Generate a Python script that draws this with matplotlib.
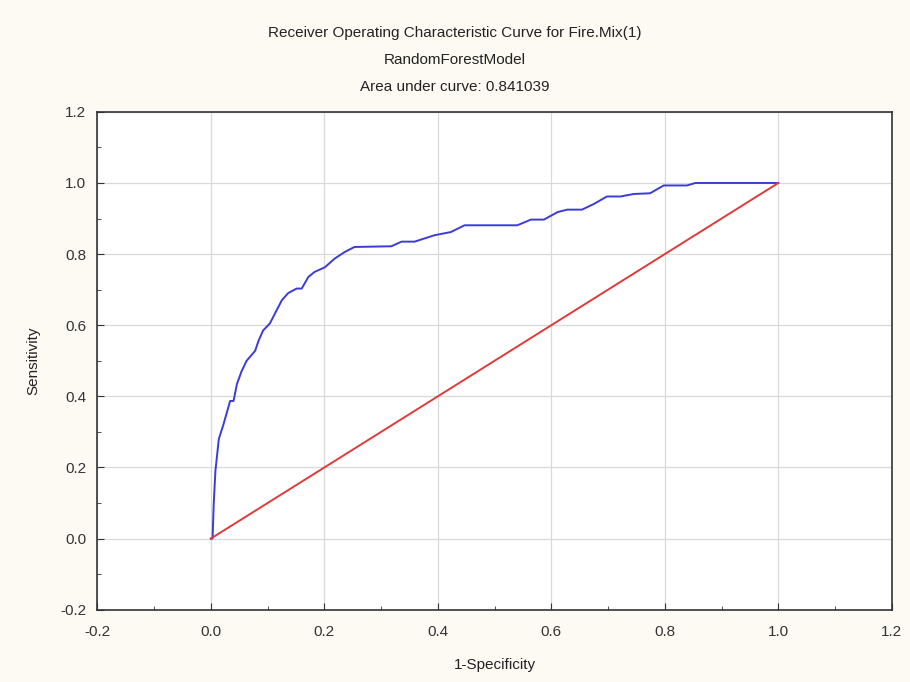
import matplotlib
matplotlib.use("Agg")
import matplotlib.pyplot as plt
from matplotlib.ticker import MultipleLocator

plt.rcParams['font.family'] = ['Liberation Sans', 'DejaVu Sans']

fpr = [0.0, 0.003, 0.005, 0.008, 0.014, 0.022, 0.034, 0.040, 0.046, 0.054, 0.063,
       0.078, 0.084, 0.092, 0.104, 0.113, 0.125, 0.136, 0.151, 0.160, 0.172,
       0.183, 0.201, 0.218, 0.236, 0.253, 0.318, 0.336, 0.359, 0.394, 0.423,
       0.447, 0.540, 0.564, 0.587, 0.611, 0.628, 0.654, 0.675, 0.698, 0.722,
       0.745, 0.774, 0.798, 0.839, 0.854, 1.0]
tpr = [0.0, 0.0, 0.096, 0.19, 0.28, 0.32, 0.387, 0.387, 0.435, 0.47, 0.50,
       0.528, 0.556, 0.585, 0.605, 0.633, 0.67, 0.69, 0.703, 0.703, 0.736,
       0.75, 0.763, 0.787, 0.806, 0.82, 0.822, 0.835, 0.835, 0.853, 0.862,
       0.881, 0.881, 0.897, 0.897, 0.918, 0.925, 0.925, 0.941, 0.962, 0.962,
       0.969, 0.971, 0.993, 0.993, 1.0, 1.0]
diag = [0.0, 1.0]

title_lines = ["Receiver Operating Characteristic Curve for Fire.Mix(1)",
               "RandomForestModel",
               "Area under curve: 0.841039"]
ticks = [-0.2, 0.0, 0.2, 0.4, 0.6, 0.8, 1.0, 1.2]

fig = plt.figure(figsize=(9.1, 6.82), dpi=100, facecolor='#fdfaf3')
ax = fig.add_axes([0.107, 0.106, 0.873, 0.730])
ax.set_facecolor('white')

ax.plot(fpr, tpr, color='#3b3bd9', lw=1.4, zorder=3)
ax.plot(diag, diag, color='#e03a3a', lw=1.4, zorder=3)

ax.set_xlim(-0.2, 1.2)
ax.set_ylim(-0.2, 1.2)
ax.set_xticks(ticks)
ax.set_yticks(ticks)
ax.set_xticklabels([f"{t:.1f}" for t in ticks])
ax.set_yticklabels([f"{t:.1f}" for t in ticks])
ax.xaxis.set_minor_locator(MultipleLocator(0.1))
ax.yaxis.set_minor_locator(MultipleLocator(0.1))
ax.tick_params(which='major', direction='in', length=5, color='#333333', labelsize=11, labelcolor='#333333')
ax.tick_params(axis='x', which='major', pad=11)
ax.tick_params(axis='y', which='major', pad=8)
ax.tick_params(which='minor', direction='in', length=3, color='#333333')
ax.grid(True, which='major', color='#d9d9d9', lw=0.9)
ax.set_axisbelow(True)
for s in ax.spines.values():
    s.set_color('#333333')
    s.set_linewidth(1.2)

ax.set_xlabel("1-Specificity", fontsize=11, color='#222222', labelpad=14)
ax.set_ylabel("Sensitivity", fontsize=11, color='#222222', labelpad=14)

for i, line in enumerate(title_lines):
    fig.text(0.5, 1 - (33 + 27 * i) / 682, line, ha='center', va='center', fontsize=11, color='#222222')

fig.savefig("out.png", dpi=100, facecolor=fig.get_facecolor())
